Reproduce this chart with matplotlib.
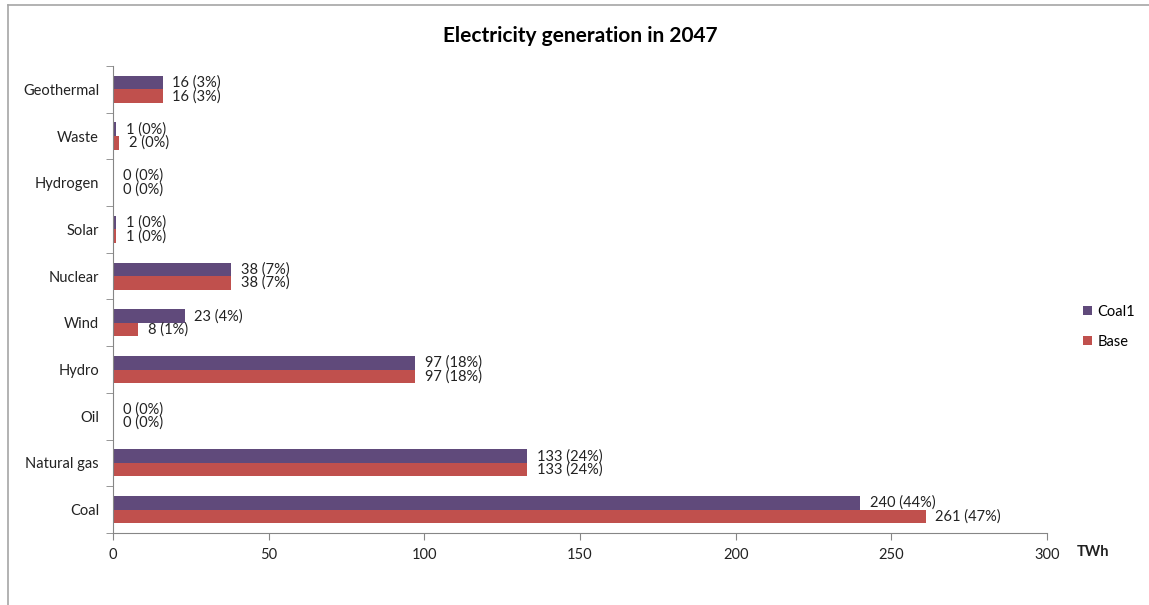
import matplotlib.pyplot as plt
import numpy as np
from matplotlib.lines import Line2D
from matplotlib.ticker import FixedLocator

# generation by source, TWh (listed bottom to top)
sources = ["Coal", "Natural gas", "Oil", "Hydro", "Wind",
           "Nuclear", "Solar", "Hydrogen", "Waste", "Geothermal"]
coal1_twh = [240, 133, 0, 97, 23, 38, 1, 0, 1, 16]
coal1_pct = [44, 24, 0, 18, 4, 7, 0, 0, 0, 3]
base_twh = [261, 133, 0, 97, 8, 38, 1, 0, 2, 16]
base_pct = [47, 24, 0, 18, 1, 7, 0, 0, 0, 3]

PURPLE = "#604a7b"
RED = "#c0504d"
AXIS_GRAY = "#868686"

plt.rcParams["font.family"] = ["Lato", "DejaVu Sans"]

fig = plt.figure(figsize=(11.49, 6.05), dpi=100)
ax = fig.add_axes([0.0983, 0.119, 0.8129, 0.772])

y = np.arange(len(sources))
h = 0.29
ax.barh(y + h / 2, coal1_twh, height=h, color=PURPLE, label="Coal1")
ax.barh(y - h / 2, base_twh, height=h, color=RED, label="Base")

for i in range(len(sources)):
    ax.annotate(f"{coal1_twh[i]} ({coal1_pct[i]}%)", (coal1_twh[i], y[i] + h / 2),
                xytext=(7, 0), textcoords="offset points", va="center",
                fontsize=10.5, color="#222222")
    ax.annotate(f"{base_twh[i]} ({base_pct[i]}%)", (base_twh[i], y[i] - h / 2),
                xytext=(7, 0), textcoords="offset points", va="center",
                fontsize=10.5, color="#222222")

ax.set_xlim(0, 300)
ax.set_ylim(-0.5, len(sources) - 0.5)
ax.set_xticks([0, 50, 100, 150, 200, 250, 300])
ax.set_yticks(y)
ax.set_yticklabels(sources)
ax.yaxis.set_minor_locator(FixedLocator(np.arange(-0.5, len(sources), 1.0)))
ax.tick_params(axis="y", which="major", length=0, pad=10, labelsize=10.5,
               labelcolor="#222222")
ax.tick_params(axis="y", which="minor", length=5, color=AXIS_GRAY)
ax.tick_params(axis="x", length=5, color=AXIS_GRAY, pad=6, labelsize=10.5,
               labelcolor="#222222")

for side in ("top", "right"):
    ax.spines[side].set_visible(False)
for side in ("left", "bottom"):
    ax.spines[side].set_color(AXIS_GRAY)

ax.set_title("Electricity generation in 2047", fontsize=15, fontweight="bold",
             pad=17, x=0.5)
fig.text(0.937, 0.088, "TWh", fontsize=10.5, fontweight="bold", ha="left",
         va="center", color="#222222")

ax.legend(loc="center left", bbox_to_anchor=(0.931, 0.46), bbox_transform=fig.transFigure,
          frameon=False, fontsize=10.5, handlelength=0.6, handleheight=0.6,
          handletextpad=0.4, labelspacing=1.1)

# outer chart frame
fig.add_artist(Line2D([8 / 1149, 8 / 1149], [0, 1 - 5 / 605], color="#a6a6a6", lw=1.2))
fig.add_artist(Line2D([8 / 1149, 1], [1 - 5 / 605, 1 - 5 / 605], color="#a6a6a6", lw=1.2))

fig.savefig("out.png", dpi=100)
